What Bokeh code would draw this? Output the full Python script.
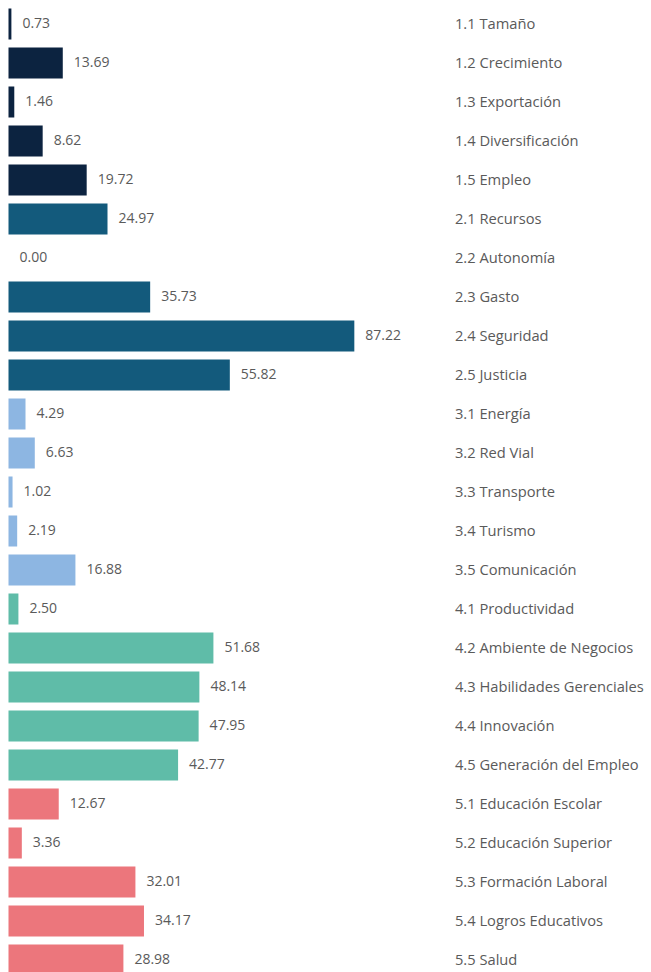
from bokeh.plotting import figure
from bokeh.models import ColumnDataSource, Range1d
from bokeh.core.properties import value
from bokeh.embed import file_html
from bokeh.resources import INLINE

categories = ["1.1 Tamaño", "1.2 Crecimiento", "1.3 Exportación", "1.4 Diversificación", "1.5 Empleo",
              "2.1 Recursos", "2.2 Autonomía", "2.3 Gasto", "2.4 Seguridad", "2.5 Justicia",
              "3.1 Energía", "3.2 Red Vial", "3.3 Transporte", "3.4 Turismo", "3.5 Comunicación",
              "4.1 Productividad", "4.2 Ambiente de Negocios", "4.3 Habilidades Gerenciales",
              "4.4 Innovación", "4.5 Generación del Empleo",
              "5.1 Educación Escolar", "5.2 Educación Superior", "5.3 Formación Laboral",
              "5.4 Logros Educativos", "5.5 Salud"]
values = [0.73, 13.69, 1.46, 8.62, 19.72,
          24.97, 0.00, 35.73, 87.22, 55.82,
          4.29, 6.63, 1.02, 2.19, 16.88,
          2.50, 51.68, 48.14, 47.95, 42.77,
          12.67, 3.36, 32.01, 34.17, 28.98]
group_colors = ["#0c2340", "#135a7c", "#8db6e2", "#5fbca8", "#ec767c"]

colors = [group_colors[i // 5] for i in range(len(values))]
idx = list(range(len(values)))
labels = [f"{v:.2f}" for v in values]

src = ColumnDataSource(dict(y=idx, v=values, c=colors, lab=labels, cat=categories,
                            zero=[0] * len(values), catx=[112.6] * len(values)))

W, H = 651, 972
px_per_unit = 3.965
x0_px = 8.0
row_h = 39.0
first_px = 23.5

p = figure(width=W, height=H, output_backend="svg", toolbar_location=None,
           x_range=Range1d(-x0_px / px_per_unit, (W - x0_px) / px_per_unit),
           y_range=Range1d((H - first_px) / row_h, -first_px / row_h),
           min_border=0, min_border_left=0, min_border_right=0,
           min_border_top=0, min_border_bottom=0)
p.axis.visible = False
p.grid.visible = False
p.outline_line_color = None
p.background_fill_color = "white"
p.border_fill_color = "white"

p.hbar(y="y", left="zero", right="v", height=31 / 39, color="c", line_color=None, source=src)

p.text(x="v", y="y", text="lab", x_offset=11, y_offset=-1.5, text_baseline="middle", text_align="left",
       text_font=value("Open Sans"), text_font_size="14px", text_color="#5a5a5a", source=src)
p.text(x="catx", y="y", text="cat", y_offset=-1.5, text_baseline="middle", text_align="left",
       text_font=value("Open Sans"), text_font_size="14.7px", text_color="#5a5a5a", source=src)

open("out.html", "w").write(file_html(p, INLINE))
